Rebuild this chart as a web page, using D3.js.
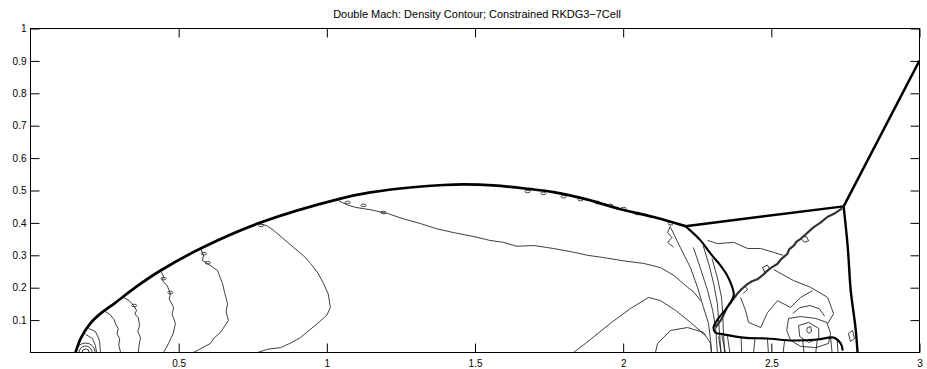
<!DOCTYPE html>
<html>
<head>
<meta charset="utf-8">
<script src="https://cdn.jsdelivr.net/npm/d3@7"></script>
<style>
  body { margin: 0; background: #fff; }
  svg { display: block; font-family: "Liberation Sans", Arial, Helvetica, sans-serif; }
</style>
</head>
<body>
<svg id="chart" width="927" height="369"></svg>
<script>
// ---- labels and ticks ----
const chartTitle = "Double Mach: Density Contour; Constrained RKDG3\u22127Cell";
const xTicks = [0.5, 1, 1.5, 2, 2.5, 3];
const yTicks = [0.1, 0.2, 0.3, 0.4, 0.5, 0.6, 0.7, 0.8, 0.9, 1];

// ---- shock fronts (x, y) ----
const bowShock = [[0.152,0],[0.160,0.022],[0.169,0.043],[0.202,0.090],[0.236,0.120],[0.287,0.154],
  [0.354,0.201],[0.439,0.253],[0.574,0.321],[0.776,0.401],[1.046,0.475],[1.147,0.494],[1.290,0.510],
  [1.394,0.517],[1.460,0.519],[1.562,0.516],[1.680,0.505],[1.765,0.495],[1.880,0.472],[1.991,0.442],
  [2.102,0.418],[2.210,0.390]];
const reflectedShock = [[2.210,0.390],[2.744,0.451]];
const incidentShock = [[2.744,0.451],[3.0,0.901]];
const machStem = [[2.744,0.451],[2.758,0.324],[2.768,0.191],[2.784,0.077],[2.791,0]];
const curvedShock = [[2.210,0.390],[2.261,0.346],[2.295,0.305],[2.328,0.269],[2.351,0.238],
  [2.368,0.202],[2.373,0.176],[2.351,0.139],[2.321,0.105],[2.305,0.077],[2.311,0.062],[2.338,0.056],
  [2.406,0.046],[2.487,0.043],[2.575,0.037],[2.656,0.040],[2.710,0.046],[2.734,0.028],[2.741,0.006]];
const slipLine = [[2.739,0.445],[2.715,0.430],[2.690,0.419],[2.665,0.400],[2.643,0.387],[2.620,0.368],
  [2.599,0.351],[2.585,0.342],[2.576,0.330],[2.560,0.318],[2.554,0.304],[2.535,0.290],[2.520,0.273],
  [2.500,0.262],[2.486,0.252],[2.470,0.238],[2.453,0.226],[2.435,0.220],[2.419,0.211],[2.400,0.196],
  [2.385,0.181],[2.368,0.160],[2.351,0.140],[2.340,0.118],[2.329,0.099],[2.312,0.078]];
// curls riding on the slip line
const slipCurls = [[[2.600,0.352],[2.612,0.340],[2.626,0.345],[2.618,0.358],[2.604,0.356]],
  [[2.480,0.245],[2.470,0.262],[2.487,0.270],[2.495,0.256]],
  [[2.395,0.190],[2.410,0.205],[2.420,0.195],[2.405,0.182]]];

// ---- density contours behind the bow shock ----
const cornerRings = [0.012, 0.022, 0.032];
const cornerCentre = 0.186;
const contourA0 = [[0.196,0.074],[0.219,0.065],[0.233,0.037],[0.236,0]];
const contourA1 = [[0.186,0.056],[0.209,0.043],[0.219,0.022],[0.223,0]];
const contourA = [[0.250,0.128],[0.268,0.117],[0.282,0.102],[0.287,0.088],[0.296,0.074],[0.292,0.058],
  [0.301,0.043],[0.298,0.022],[0.304,0]];
const contourB = [[0.314,0.170],[0.333,0.160],[0.348,0.145],[0.358,0.130],[0.352,0.118],[0.364,0.108],
  [0.368,0.083],[0.362,0.065],[0.371,0.046],[0.366,0.020],[0.364,0]];
const contourC = [[0.439,0.253],[0.449,0.235],[0.445,0.222],[0.462,0.205],[0.472,0.182],[0.468,0.165],
  [0.483,0.139],[0.478,0.118],[0.489,0.090],[0.482,0.060],[0.466,0.028],[0.449,0]];
const contourD = [[0.574,0.321],[0.584,0.300],[0.580,0.284],[0.605,0.270],[0.631,0.253],[0.640,0.232],
  [0.648,0.213],[0.655,0.185],[0.665,0.151],[0.660,0.125],[0.668,0.099],[0.641,0.062],[0.620,0.045],
  [0.607,0.028],[0.575,0.012],[0.550,0]];
const contourE = [[0.776,0.398],[0.800,0.390],[0.820,0.377],[0.855,0.350],[0.888,0.324],[0.920,0.300],
  [0.945,0.275],[0.970,0.245],[0.989,0.213],[1.005,0.180],[1.012,0.139],[1.000,0.115],[0.969,0.090],
  [0.940,0.068],[0.911,0.046],[0.875,0.028],[0.844,0.015],[0.800,0.010],[0.766,0]];
const contourF = [[1.039,0.469],[1.070,0.455],[1.097,0.448],[1.150,0.440],[1.205,0.429],[1.260,0.412],
  [1.316,0.398],[1.370,0.382],[1.428,0.370],[1.500,0.357],[1.550,0.346],[1.596,0.340],[1.640,0.328],
  [1.700,0.330],[1.765,0.321],[1.830,0.310],[1.880,0.300],[1.934,0.293],[2.000,0.283],[2.069,0.275],
  [2.126,0.262],[2.171,0.238],[2.210,0.207],[2.240,0.185],[2.261,0.160]];
const contourG = [[1.832,0],[1.873,0.028],[1.957,0.090],[2.025,0.136],[2.086,0.170],[2.126,0.160],
  [2.177,0.130],[2.227,0.093],[2.278,0.052]];
const contourH = [[2.109,0],[2.116,0.028],[2.160,0.068],[2.217,0.077],[2.271,0.062],[2.295,0.028],[2.298,0]];
const fan1 = [[2.160,0.386],[2.193,0.324],[2.227,0.262],[2.251,0.201],[2.271,0.139],[2.288,0.090],
  [2.295,0.037],[2.298,0]];
const fan2 = [[2.237,0.324],[2.261,0.259],[2.285,0.191],[2.302,0.130],[2.312,0.077],[2.315,0.037],[2.318,0]];
const fan3 = [[2.270,0.330],[2.290,0.270],[2.306,0.210],[2.318,0.150],[2.322,0.100],[2.326,0.050],[2.330,0]];
const fan4 = [[2.300,0.290],[2.318,0.230],[2.332,0.170],[2.336,0.120],[2.338,0.070],[2.342,0]];
const tripleCurl = [[2.160,0.392],[2.150,0.370],[2.165,0.355],[2.150,0.340],[2.170,0.325]];
const upperEdge = [[2.285,0.346],[2.319,0.336],[2.373,0.340],[2.420,0.321],[2.464,0.321],[2.508,0.309],
  [2.540,0.300]];
const lowerEdge = [[2.508,0.256],[2.575,0.222],[2.633,0.201],[2.690,0.170],[2.710,0.120],[2.690,0.089]];
const contourK = [[2.396,0.170],[2.413,0.130],[2.423,0.093],[2.464,0.077],[2.487,0.123],[2.521,0.160],
  [2.565,0.139],[2.599,0.170],[2.639,0.191]];
const vortexOuter = [[2.558,0.105],[2.599,0.111],[2.650,0.105],[2.687,0.093],[2.700,0.059],[2.693,0.028],
  [2.650,0.015],[2.599,0.019],[2.565,0.037],[2.552,0.068],[2.558,0.105]];
const vortexInner = [[2.592,0.083],[2.626,0.093],[2.660,0.074],[2.660,0.043],[2.626,0.031],[2.596,0.049],
  [2.592,0.083]];
const vortexCore = [[2.622,0.077],[2.633,0.080],[2.636,0.065],[2.626,0.059],[2.619,0.068],[2.622,0.077]];
const vortexCap = [[2.572,0.120],[2.595,0.138],[2.630,0.145],[2.662,0.135],[2.680,0.112]];
const stemLoop = [[2.760,0.059],[2.774,0.068],[2.781,0.043],[2.767,0.034],[2.760,0.059]];
const wallLines = [
  [[2.330,0],[2.322,0.050]], [[2.345,0],[2.333,0.052]], [[2.360,0],[2.352,0.050]],
  [[2.400,0],[2.398,0.045]], [[2.440,0],[2.445,0.044]], [[2.490,0],[2.487,0.042]],
  [[2.540,0],[2.545,0.040]], [[2.610,0],[2.606,0.038]], [[2.650,0],[2.655,0.040]],
  [[2.705,0],[2.700,0.045]], [[2.725,0],[2.722,0.040]]];
// small closed contours hugging the bow shock
const shockBlobs = [[1.070,0.463],[1.124,0.454],[1.191,0.432],[1.677,0.497],[1.731,0.491],[1.799,0.481],
  [1.856,0.472],[1.913,0.463],[1.957,0.454],[2.001,0.444],[2.048,0.429],[2.160,0.398],
  [0.585,0.305],[0.598,0.277],[0.449,0.228],[0.472,0.185],[0.350,0.145],[0.778,0.392]];

// ---- layout ----
const svg = d3.select("#chart");
const x = d3.scaleLinear().domain([0, 3]).range([30.5, 919.5]);
const y = d3.scaleLinear().domain([0, 1]).range([352.5, 28.5]);

svg.append("defs").append("clipPath").attr("id", "plot")
  .append("rect").attr("x", x(0)).attr("y", y(1))
  .attr("width", x(3) - x(0)).attr("height", y(0) - y(1));

const g = svg.append("g").attr("clip-path", "url(#plot)");
const line = d3.line().x(d => x(d[0])).y(d => y(d[1]));
const smooth = d3.line().x(d => x(d[0])).y(d => y(d[1])).curve(d3.curveCatmullRom.alpha(0.5));

// thin contours
const thin = [contourA0, contourA1, contourA, contourB, contourC, contourD, contourE, contourF,
  contourG, contourH, fan1, fan2, fan3, fan4, tripleCurl, upperEdge, lowerEdge, contourK,
  vortexOuter, vortexInner, vortexCore, vortexCap, stemLoop, ...wallLines];
g.selectAll("path.thin").data(thin).join("path")
  .attr("class", "thin").attr("d", line)
  .attr("fill", "none").attr("stroke", "#1c1c1c").attr("stroke-width", 0.85)
  .attr("stroke-linejoin", "round");

g.selectAll("circle.ring").data(cornerRings).join("circle")
  .attr("class", "ring")
  .attr("cx", x(cornerCentre)).attr("cy", y(0))
  .attr("r", d => x(d) - x(0))
  .attr("fill", "none").attr("stroke", "#1c1c1c").attr("stroke-width", 0.85);

g.selectAll("ellipse.blob").data(shockBlobs).join("ellipse")
  .attr("class", "blob")
  .attr("cx", d => x(d[0])).attr("cy", d => y(d[1]))
  .attr("rx", 2.6).attr("ry", 1.3)
  .attr("fill", "none").attr("stroke", "#1c1c1c").attr("stroke-width", 0.8);

// slip line bundle
g.append("path").datum(slipLine).attr("d", line)
  .attr("fill", "none").attr("stroke", "#333").attr("stroke-width", 2.2)
  .attr("stroke-linejoin", "round");
g.selectAll("path.curl").data(slipCurls).join("path")
  .attr("class", "curl").attr("d", line)
  .attr("fill", "none").attr("stroke", "#333").attr("stroke-width", 1);

// shocks
g.append("path").datum(bowShock).attr("d", smooth)
  .attr("fill", "none").attr("stroke", "#000").attr("stroke-width", 2.7);
g.append("path").datum(curvedShock).attr("d", smooth)
  .attr("fill", "none").attr("stroke", "#000").attr("stroke-width", 2.1);
[reflectedShock, incidentShock].forEach(s =>
  g.append("path").datum(s).attr("d", line)
    .attr("fill", "none").attr("stroke", "#000").attr("stroke-width", 2.5));
g.append("path").datum(machStem).attr("d", smooth)
  .attr("fill", "none").attr("stroke", "#000").attr("stroke-width", 2.4);

// ---- axes (box with inward ticks) ----
const axisStyle = sel => {
  sel.selectAll("path.domain").remove();
  sel.selectAll("line").attr("stroke", "#000").attr("stroke-width", 1);
  sel.selectAll("text").attr("fill", "#000").attr("font-size", 10)
    .attr("font-family", "\"Liberation Sans\", Arial, Helvetica, sans-serif");
};
svg.append("g").attr("transform", `translate(0,${y(0)})`)
  .call(d3.axisBottom(x).tickValues(xTicks).tickSize(-9).tickPadding(7).tickFormat(d3.format("")))
  .call(axisStyle);
svg.append("g").attr("transform", `translate(0,${y(1)})`)
  .call(d3.axisTop(x).tickValues(xTicks).tickSize(-9).tickFormat(""))
  .call(axisStyle);
svg.append("g").attr("transform", `translate(${x(0)},0)`)
  .call(d3.axisLeft(y).tickValues(yTicks).tickSize(-9).tickPadding(4).tickFormat(d3.format("")))
  .call(axisStyle);
svg.append("g").attr("transform", `translate(${x(3)},0)`)
  .call(d3.axisRight(y).tickValues(yTicks).tickSize(-9).tickFormat(""))
  .call(axisStyle);

svg.append("rect").attr("x", x(0)).attr("y", y(1))
  .attr("width", x(3) - x(0)).attr("height", y(0) - y(1))
  .attr("fill", "none").attr("stroke", "#000").attr("stroke-width", 1);

svg.append("text").attr("x", (x(0) + x(3)) / 2 + 2).attr("y", 18)
  .attr("text-anchor", "middle").attr("font-size", 11).attr("fill", "#000")
  .text(chartTitle);
</script>
</body>
</html>
